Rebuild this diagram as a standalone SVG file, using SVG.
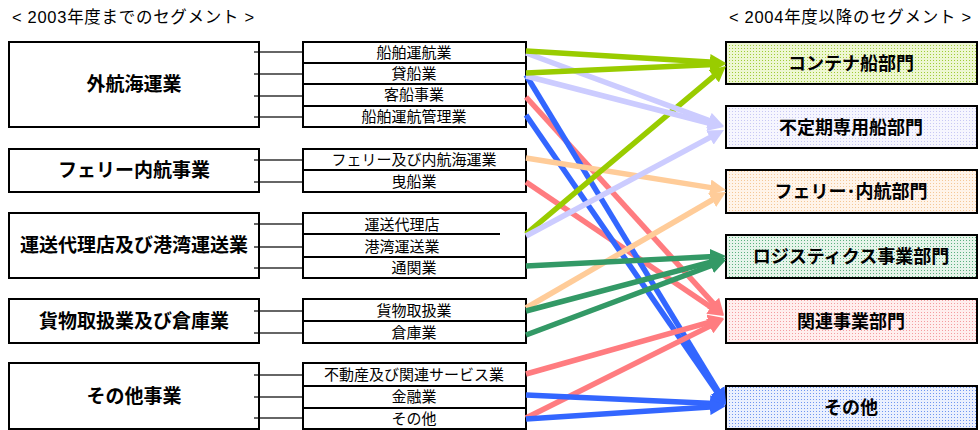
<svg xmlns="http://www.w3.org/2000/svg" width="980" height="430" viewBox="0 0 980 430">
<style>
text{font-family:"Liberation Sans","Noto Sans CJK JP",sans-serif;fill:#000}
.t{font-size:16.5px;letter-spacing:0.7px}
.lb{font-size:19px;font-weight:bold;text-anchor:middle}
.mb{font-size:15px;text-anchor:middle}
.rb{font-size:18px;font-weight:bold;text-anchor:middle}
.box{fill:#fff;stroke:#000;stroke-width:2}
.rbox{stroke:#000;stroke-width:2}
.stub{stroke:#333;stroke-width:1.3}
.row{stroke:#000;stroke-width:2}
.a{fill:none;stroke-width:5.5}
.g{stroke:#99cc00}.l{stroke:#ccccff}.b{stroke:#3366ff}.p{stroke:#ff7c80}.o{stroke:#ffcc99}.d{stroke:#339966}
</style>
<defs>
<pattern id="pg" width="3" height="3" patternUnits="userSpaceOnUse"><rect width="3" height="3" fill="#eef7d2"/><rect width="1" height="1" fill="#a0cc38"/></pattern>
<pattern id="pl" width="3" height="3" patternUnits="userSpaceOnUse"><rect width="3" height="3" fill="#f6f6fe"/><rect width="1" height="1" fill="#c8c8f4"/></pattern>
<pattern id="po" width="3" height="3" patternUnits="userSpaceOnUse"><rect width="3" height="3" fill="#fff4ea"/><rect width="1" height="1" fill="#f4c898"/></pattern>
<pattern id="pd" width="3" height="3" patternUnits="userSpaceOnUse"><rect width="3" height="3" fill="#e6f4ea"/><rect width="1" height="1" fill="#5cb07e"/></pattern>
<pattern id="pp" width="3" height="3" patternUnits="userSpaceOnUse"><rect width="3" height="3" fill="#ffeeee"/><rect width="1" height="1" fill="#f49ca0"/></pattern>
<pattern id="pb" width="3" height="3" patternUnits="userSpaceOnUse"><rect width="3" height="3" fill="#eaf0fe"/><rect width="1" height="1" fill="#7096f0"/></pattern>
<marker id="mg" viewBox="0 0 16 16" refX="4" refY="8" markerWidth="16" markerHeight="16" markerUnits="userSpaceOnUse" orient="auto"><path d="M0,0 L16,8 L0,16 z" fill="#99cc00"/></marker>
<marker id="ml" viewBox="0 0 16 16" refX="4" refY="8" markerWidth="16" markerHeight="16" markerUnits="userSpaceOnUse" orient="auto"><path d="M0,0 L16,8 L0,16 z" fill="#ccccff"/></marker>
<marker id="mb" viewBox="0 0 16 16" refX="4" refY="8" markerWidth="16" markerHeight="16" markerUnits="userSpaceOnUse" orient="auto"><path d="M0,0 L16,8 L0,16 z" fill="#3366ff"/></marker>
<marker id="mp" viewBox="0 0 16 16" refX="4" refY="8" markerWidth="16" markerHeight="16" markerUnits="userSpaceOnUse" orient="auto"><path d="M0,0 L16,8 L0,16 z" fill="#ff7c80"/></marker>
<marker id="mo" viewBox="0 0 16 16" refX="4" refY="8" markerWidth="16" markerHeight="16" markerUnits="userSpaceOnUse" orient="auto"><path d="M0,0 L16,8 L0,16 z" fill="#ffcc99"/></marker>
<marker id="md" viewBox="0 0 16 16" refX="4" refY="8" markerWidth="16" markerHeight="16" markerUnits="userSpaceOnUse" orient="auto"><path d="M0,0 L16,8 L0,16 z" fill="#339966"/></marker>
</defs>
<rect width="980" height="430" fill="#fff"/>
<text class="t" x="12" y="23">&lt; 2003年度までのセグメント &gt;</text>
<text class="t" x="729" y="23">&lt; 2004年度以降のセグメント &gt;</text>

<g id="stubs">
<line class="stub" x1="254" y1="52" x2="303" y2="52"/><line class="stub" x1="254" y1="74" x2="303" y2="74"/><line class="stub" x1="254" y1="96" x2="303" y2="96"/><line class="stub" x1="254" y1="117" x2="303" y2="117"/>
<line class="stub" x1="254" y1="160" x2="303" y2="160"/><line class="stub" x1="254" y1="182" x2="303" y2="182"/>
<line class="stub" x1="254" y1="224" x2="303" y2="224"/><line class="stub" x1="254" y1="247" x2="303" y2="247"/><line class="stub" x1="254" y1="268" x2="303" y2="268"/>
<line class="stub" x1="254" y1="311" x2="303" y2="311"/><line class="stub" x1="254" y1="333" x2="303" y2="333"/>
<line class="stub" x1="254" y1="375" x2="303" y2="375"/><line class="stub" x1="254" y1="397" x2="303" y2="397"/><line class="stub" x1="254" y1="418" x2="303" y2="418"/>
</g>

<g id="old1"><rect class="box" x="9" y="42" width="250" height="85" style="fill:none"/><text class="lb" x="134" y="91">外航海運業</text></g>
<g id="old2"><rect class="box" x="9" y="149" width="250" height="43" style="fill:none"/><text class="lb" x="134" y="177">フェリー内航事業</text></g>
<g id="old3"><rect class="box" x="9" y="213" width="250" height="65" style="fill:none"/><text class="lb" x="134" y="252">運送代理店及び港湾運送業</text></g>
<g id="old4"><rect class="box" x="9" y="299" width="250" height="44" style="fill:none"/><text class="lb" x="134" y="328">貨物取扱業及び倉庫業</text></g>
<g id="old5"><rect class="box" x="9" y="363" width="250" height="66" style="fill:none"/><text class="lb" x="134" y="403">その他事業</text></g>

<g id="mid1">
<rect class="box" x="303" y="42" width="223" height="85"/>
<line class="row" x1="303" y1="63" x2="526" y2="63"/><line class="row" x1="303" y1="84" x2="526" y2="84"/><line class="row" x1="303" y1="106" x2="526" y2="106"/>
<text class="mb" x="414" y="58">船舶運航業</text><text class="mb" x="414" y="79">貸船業</text><text class="mb" x="414" y="100">客船事業</text><text class="mb" x="414" y="122">船舶運航管理業</text>
</g>
<g id="mid2">
<rect class="box" x="303" y="149" width="223" height="43"/>
<line class="row" x1="303" y1="170" x2="526" y2="170"/>
<text class="mb" x="414" y="165">フェリー及び内航海運業</text><text class="mb" x="414" y="187">曳船業</text>
</g>
<g id="mid3">
<rect class="box" x="303" y="213" width="223" height="65"/>
<line class="row" x1="303" y1="234" x2="500" y2="234"/><line class="row" x1="303" y1="257" x2="526" y2="257"/>
<text class="mb" x="402" y="230">運送代理店</text><text class="mb" x="402" y="252">港湾運送業</text><text class="mb" x="414" y="273">通関業</text>
</g>
<g id="mid4">
<rect class="box" x="303" y="299" width="223" height="44"/>
<line class="row" x1="303" y1="321" x2="526" y2="321"/>
<text class="mb" x="414" y="316">貨物取扱業</text><text class="mb" x="414" y="338">倉庫業</text>
</g>
<g id="mid5">
<rect class="box" x="303" y="363" width="223" height="66"/>
<line class="row" x1="303" y1="386" x2="526" y2="386"/><line class="row" x1="303" y1="408" x2="526" y2="408"/>
<text class="mb" x="414" y="380">不動産及び関連サービス業</text><text class="mb" x="414" y="402">金融業</text><text class="mb" x="414" y="424">その他</text>
</g>

<g id="new1"><rect class="rbox" x="726" y="42" width="251" height="42" fill="url(#pg)"/><text class="rb" x="851" y="70">コンテナ船部門</text></g>
<g id="new2"><rect class="rbox" x="726" y="106" width="251" height="42" fill="url(#pl)"/><text class="rb" x="851" y="134">不定期専用船部門</text></g>
<g id="new3"><rect class="rbox" x="726" y="170" width="251" height="43" fill="url(#po)"/><text class="rb" x="851" y="198">フェリー･内航部門</text></g>
<g id="new4"><rect class="rbox" x="726" y="235" width="251" height="43" fill="url(#pd)"/><text class="rb" x="851" y="263">ロジスティクス事業部門</text></g>
<g id="new5"><rect class="rbox" x="726" y="299" width="251" height="44" fill="url(#pp)"/><text class="rb" x="851" y="328">関連事業部門</text></g>
<g id="new6"><rect class="rbox" x="726" y="386" width="251" height="43" fill="url(#pb)"/><text class="rb" x="851" y="414">その他</text></g>

<g id="connectors">
<line class="a p" x1="526" y1="97" x2="715.9" y2="306.1" marker-end="url(#mp)"/>
<line class="a p" x1="526" y1="182" x2="714.1" y2="309.3" marker-end="url(#mp)"/>
<line class="a b" x1="526" y1="75" x2="719.8" y2="393.8" marker-end="url(#mb)"/>
<line class="a b" x1="526" y1="115" x2="719.2" y2="395.1" marker-end="url(#mb)"/>
<line class="a o" x1="526" y1="158" x2="714.1" y2="188.1" marker-end="url(#mo)"/>
<line class="a g" x1="526" y1="234" x2="716.8" y2="73.7" marker-end="url(#mg)"/>
<line class="a l" x1="526" y1="236" x2="713.4" y2="135.7" marker-end="url(#ml)"/>
<line class="a o" x1="526" y1="308" x2="715.6" y2="198" marker-end="url(#mo)"/>
<line class="a l" x1="526" y1="53" x2="712.7" y2="121.8" marker-end="url(#ml)"/>
<line class="a l" x1="526" y1="76" x2="712.4" y2="124" marker-end="url(#ml)"/>
<line class="a g" x1="526" y1="51" x2="714" y2="62.3" marker-end="url(#mg)"/>
<line class="a g" x1="526" y1="73" x2="714" y2="64.5" marker-end="url(#mg)"/>
<line class="a d" x1="526" y1="266" x2="714" y2="256.6" marker-end="url(#md)"/>
<line class="a d" x1="526" y1="311" x2="714.4" y2="261.1" marker-end="url(#md)"/>
<line class="a d" x1="526" y1="335" x2="714.8" y2="264.2" marker-end="url(#md)"/>
<line class="a p" x1="526" y1="374" x2="712.5" y2="321.3" marker-end="url(#mp)"/>
<line class="a p" x1="526" y1="418" x2="713.3" y2="324.4" marker-end="url(#mp)"/>
<line class="a b" x1="526" y1="395" x2="714" y2="403.5" marker-end="url(#mb)"/>
<line class="a b" x1="526" y1="419" x2="714" y2="406.8" marker-end="url(#mb)"/>
</g>
</svg>
